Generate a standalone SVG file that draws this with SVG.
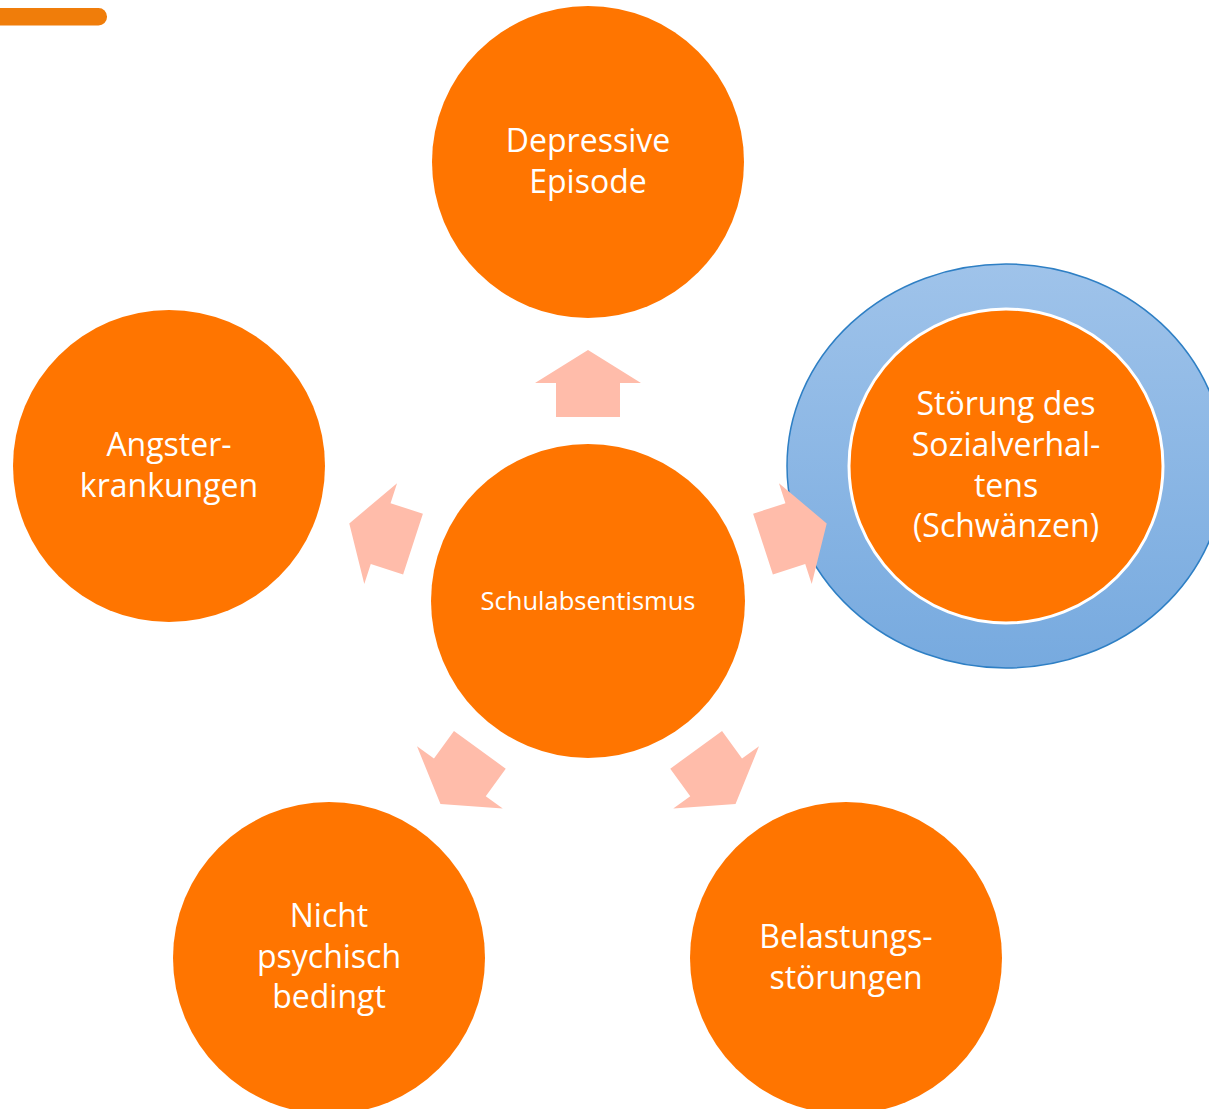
<svg xmlns="http://www.w3.org/2000/svg" width="1209" height="1109" viewBox="0 0 1209 1109">
  <style>
    .node { fill: #FF7500; }
    .lbl { font-family: "Open Sans", "Liberation Sans", sans-serif; font-size: 32px; fill: #FFFFFF; text-anchor: middle; }
    .small { font-size: 25.5px; }
    .arrow { fill: #FFBCAA; }
  </style>
  <defs>
    <linearGradient id="ringFill" x1="0" y1="0" x2="0" y2="1">
      <stop offset="0" stop-color="#9FC3EA"/>
      <stop offset="1" stop-color="#77AADF"/>
    </linearGradient>
    <!-- block arrow pointing up, origin at the hub centre -->
    <path id="blockArrow" d="M -32 -184 L -32 -218 L -53 -218 L 0 -251 L 53 -218 L 32 -218 L 32 -184 Z"/>
  </defs>

  <rect x="-10" y="8" width="117" height="17.5" rx="8.5" fill="#F07D0A"/>

  <g id="node-depressive">
    <circle class="node" cx="588" cy="162" r="156"/>
    <text class="lbl" x="588" y="152">Depressive</text>
    <text class="lbl" x="588" y="193">Episode</text>
  </g>

  <g id="node-angst">
    <circle class="node" cx="169" cy="466" r="156"/>
    <text class="lbl" x="169" y="456">Angster-</text>
    <text class="lbl" x="169" y="497">krankungen</text>
  </g>

  <g id="node-sozial">
    <ellipse cx="1006" cy="466" rx="219" ry="202" fill="url(#ringFill)" stroke="#2E7FC4" stroke-width="1.5"/>
    <circle class="node" cx="1006" cy="466" r="157" stroke="#FFFFFF" stroke-width="3"/>
    <text class="lbl" x="1006" y="415">Störung des</text>
    <text class="lbl" x="1006" y="456">Sozialverhal-</text>
    <text class="lbl" x="1006" y="497">tens</text>
    <text class="lbl" x="1006" y="537">(Schwänzen)</text>
  </g>

  <g id="node-nicht">
    <circle class="node" cx="329" cy="958" r="156"/>
    <text class="lbl" x="329" y="927">Nicht</text>
    <text class="lbl" x="329" y="968">psychisch</text>
    <text class="lbl" x="329" y="1008">bedingt</text>
  </g>

  <g id="node-belastung">
    <circle class="node" cx="846" cy="958" r="156"/>
    <text class="lbl" x="846" y="948">Belastungs-</text>
    <text class="lbl" x="846" y="989">störungen</text>
  </g>

  <g id="node-hub">
    <circle class="node" cx="588" cy="601" r="157"/>
    <text class="lbl small" x="588" y="610">Schulabsentismus</text>
  </g>

  <g id="connectors" class="arrow">
    <use href="#blockArrow" transform="translate(588 601)"/>
    <use href="#blockArrow" transform="translate(588 601) rotate(72)"/>
    <use href="#blockArrow" transform="translate(588 601) rotate(144)"/>
    <use href="#blockArrow" transform="translate(588 601) rotate(216)"/>
    <use href="#blockArrow" transform="translate(588 601) rotate(288)"/>
  </g>
</svg>
